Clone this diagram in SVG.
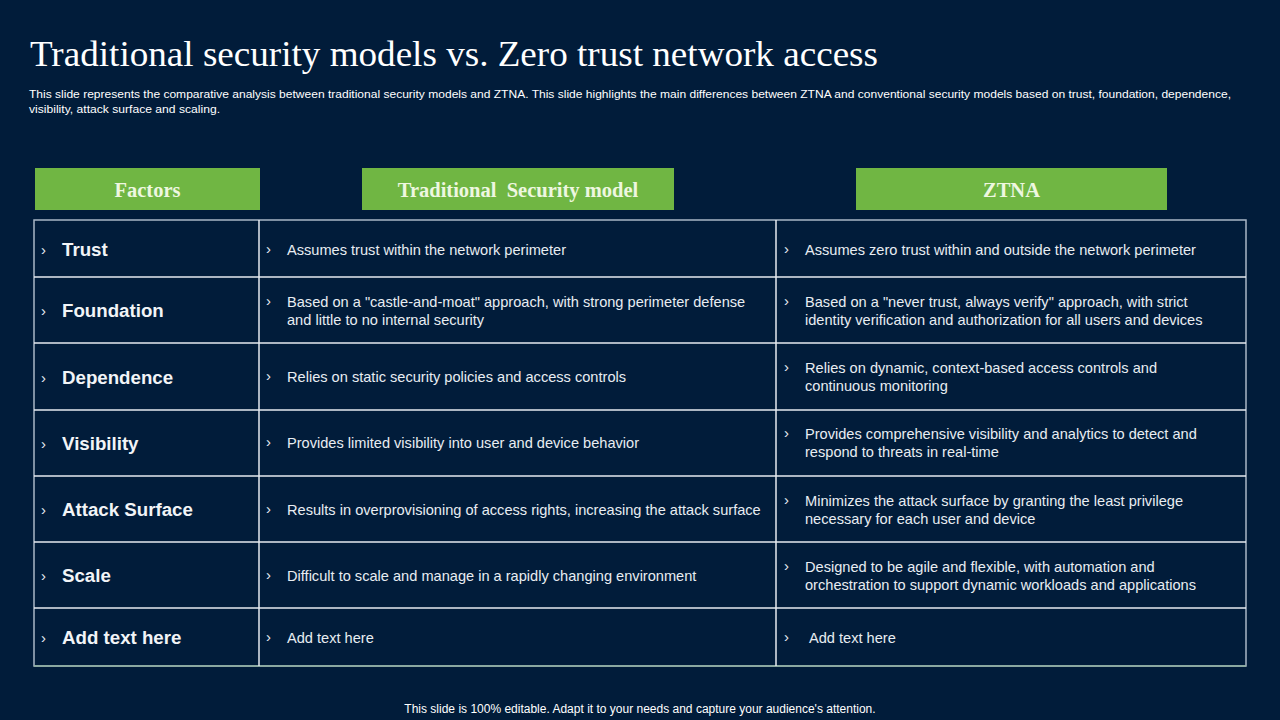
<svg xmlns="http://www.w3.org/2000/svg" width="1280" height="720" viewBox="0 0 1280 720">
<style>
.bg{fill:#011c3a}
.hdr{fill:#70b643}
.htx{font-family:"Liberation Serif",serif;font-weight:bold;font-size:20.5px;fill:#eef7e0;text-anchor:middle}
.lbl{font-family:"Liberation Sans",Arial,sans-serif;font-weight:bold;font-size:18.7px;fill:#f2f4f7}
.txt{font-family:"Liberation Sans",Arial,sans-serif;font-size:14.6px;fill:#e8edf2}
.chv{font-family:"Liberation Sans",Arial,sans-serif;font-size:15px;fill:#e8edf2}
.grid{stroke:#e6eaf0;stroke-width:1.5;fill:none}
</style>
<rect class="bg" x="0" y="0" width="1280" height="720"/>
<text x="30" y="66" font-family="'Liberation Serif',serif" font-size="35" fill="#ffffff" textLength="848" lengthAdjust="spacingAndGlyphs">Traditional security models vs. Zero trust network access</text>
<text x="29" y="98" font-family="'Liberation Sans',Arial,sans-serif" font-size="11.5" fill="#ffffff" textLength="1202" lengthAdjust="spacingAndGlyphs">This slide represents the comparative analysis between traditional security models and ZTNA. This slide highlights the main differences between ZTNA and conventional security models based on trust, foundation, dependence,</text>
<text x="29" y="113" font-family="'Liberation Sans',Arial,sans-serif" font-size="11.5" fill="#ffffff" textLength="191" lengthAdjust="spacingAndGlyphs">visibility, attack surface and scaling.</text>

<g id="header-factors"><rect class="hdr" x="35" y="168" width="225" height="42"/><text class="htx" x="147.5" y="197">Factors</text></g>
<g id="header-traditional"><rect class="hdr" x="362" y="168" width="312" height="42"/><text class="htx" x="518" y="197" xml:space="preserve">Traditional  Security model</text></g>
<g id="header-ztna"><rect class="hdr" x="856" y="168" width="311" height="42"/><text class="htx" x="1011.5" y="197">ZTNA</text></g>

<g id="connectors">
<rect x="34" y="220" width="1212" height="446" fill="none" stroke="#a9b6c6" stroke-width="1.5"/>
<line class="grid" x1="34" y1="277" x2="1246" y2="277"/>
<line class="grid" x1="34" y1="343" x2="1246" y2="343"/>
<line class="grid" x1="34" y1="410" x2="1246" y2="410"/>
<line class="grid" x1="34" y1="476" x2="1246" y2="476"/>
<line class="grid" x1="34" y1="542" x2="1246" y2="542"/>
<line class="grid" x1="34" y1="608" x2="1246" y2="608"/>
<line x1="34" y1="666" x2="1246" y2="666" stroke="#8fb0a0" stroke-width="1.5"/>
<line class="grid" x1="259" y1="220" x2="259" y2="666"/>
<line class="grid" x1="776" y1="220" x2="776" y2="666"/>
</g>

<g id="row-trust">
<text class="chv" x="41" y="255">›</text><text class="lbl" x="62" y="256">Trust</text>
<text class="chv" x="266" y="254">›</text><text class="txt" x="287" y="255">Assumes trust within the network perimeter</text>
<text class="chv" x="784" y="254">›</text><text class="txt" x="805" y="255">Assumes zero trust within and outside the network perimeter</text>
</g>
<g id="row-foundation">
<text class="chv" x="41" y="316">›</text><text class="lbl" x="62" y="317">Foundation</text>
<text class="chv" x="266" y="306">›</text><text class="txt" x="287" y="307">Based on a "castle-and-moat" approach, with strong perimeter defense</text><text class="txt" x="287" y="325">and little to no internal security</text>
<text class="chv" x="784" y="306">›</text><text class="txt" x="805" y="307">Based on a "never trust, always verify" approach, with strict</text><text class="txt" x="805" y="325">identity verification and authorization for all users and devices</text>
</g>
<g id="row-dependence">
<text class="chv" x="41" y="383">›</text><text class="lbl" x="62" y="384">Dependence</text>
<text class="chv" x="266" y="381">›</text><text class="txt" x="287" y="382">Relies on static security policies and access controls</text>
<text class="chv" x="784" y="372">›</text><text class="txt" x="805" y="373">Relies on dynamic, context-based access controls and</text><text class="txt" x="805" y="391">continuous monitoring</text>
</g>
<g id="row-visibility">
<text class="chv" x="41" y="449">›</text><text class="lbl" x="62" y="450">Visibility</text>
<text class="chv" x="266" y="447">›</text><text class="txt" x="287" y="448">Provides limited visibility into user and device behavior</text>
<text class="chv" x="784" y="438">›</text><text class="txt" x="805" y="439">Provides comprehensive visibility and analytics to detect and</text><text class="txt" x="805" y="457">respond to threats in real-time</text>
</g>
<g id="row-attack-surface">
<text class="chv" x="41" y="515">›</text><text class="lbl" x="62" y="516">Attack Surface</text>
<text class="chv" x="266" y="514">›</text><text class="txt" x="287" y="515">Results in overprovisioning of access rights, increasing the attack surface</text>
<text class="chv" x="784" y="505">›</text><text class="txt" x="805" y="506">Minimizes the attack surface by granting the least privilege</text><text class="txt" x="805" y="524">necessary for each user and device</text>
</g>
<g id="row-scale">
<text class="chv" x="41" y="581">›</text><text class="lbl" x="62" y="582">Scale</text>
<text class="chv" x="266" y="580">›</text><text class="txt" x="287" y="581">Difficult to scale and manage in a rapidly changing environment</text>
<text class="chv" x="784" y="571">›</text><text class="txt" x="805" y="572">Designed to be agile and flexible, with automation and</text><text class="txt" x="805" y="590">orchestration to support dynamic workloads and applications</text>
</g>
<g id="row-add">
<text class="chv" x="41" y="643">›</text><text class="lbl" x="62" y="644">Add text here</text>
<text class="chv" x="266" y="642">›</text><text class="txt" x="287" y="643">Add text here</text>
<text class="chv" x="784" y="642">›</text><text class="txt" x="809" y="643">Add text here</text>
</g>

<text x="640" y="713" font-family="'Liberation Sans',Arial,sans-serif" font-size="12" fill="#ffffff" text-anchor="middle">This slide is 100% editable. Adapt it to your needs and capture your audience's attention.</text>
</svg>
